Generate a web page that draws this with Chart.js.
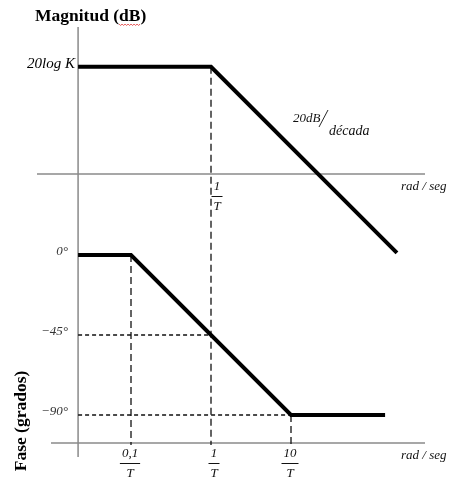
<!DOCTYPE html>
<html>
<head>
<meta charset="utf-8">
<script src="https://cdn.jsdelivr.net/npm/chart.js@4/dist/chart.umd.min.js"></script>
<style>
  html, body { margin: 0; padding: 0; background: #fff; }
  canvas { display: block; }
</style>
</head>
<body>
<canvas id="bode" width="454" height="483"></canvas>
<script>
// Asymptotic Bode diagram of a first-order lag K / (1 + jωT); ω is given in units of 1/T.
const magOmega = [0.0218, 1, 211];
const magDb = [26.8, 26.8, -19.7];
const phaseOmega = [0.0218, 0.1, 10, 150];
const phaseDeg = [0, 0, -90, -90];
const cornerTicks = [0.1, 1, 10];
const cornerTickLabels = ['0,1', '1', '10'];
const phaseTicks = [0, -45, -90];
const phaseTickLabels = ['0°', '−45°', '−90°'];
const magLevelLabel = '20log K';

// Where the hand-drawn axes sit and how far they run (in data units)
const axisSpec = {
  yAxisOmega: 0.0218,
  magAxisFrom: 0.00668,
  phaseAxisFrom: 0.01,
  axisTo: 473,
  vTopDb: 36.75,
  vBottomDeg: -113.6,
  phaseAxisDeg: -105.75
};

const SERIF = '"Liberation Serif", "Times New Roman", serif';

const bodeAxes = {
  id: 'bodeAxes',
  beforeDatasetsDraw(chart) {
    const { ctx } = chart;
    const x = chart.scales.x, ym = chart.scales.yMag, yp = chart.scales.yPh;
    const X = v => x.getPixelForValue(v);
    ctx.save();
    // axes
    ctx.strokeStyle = '#8a8a8a';
    ctx.lineWidth = 1.5;
    ctx.beginPath();
    ctx.moveTo(X(axisSpec.yAxisOmega), ym.getPixelForValue(axisSpec.vTopDb));
    ctx.lineTo(X(axisSpec.yAxisOmega), yp.getPixelForValue(axisSpec.vBottomDeg));
    ctx.moveTo(X(axisSpec.magAxisFrom), ym.getPixelForValue(0));
    ctx.lineTo(X(axisSpec.axisTo), ym.getPixelForValue(0));
    ctx.moveTo(X(axisSpec.phaseAxisFrom), yp.getPixelForValue(axisSpec.phaseAxisDeg));
    ctx.lineTo(X(axisSpec.axisTo), yp.getPixelForValue(axisSpec.phaseAxisDeg));
    ctx.stroke();

    // dashed guides
    const axisY = yp.getPixelForValue(axisSpec.phaseAxisDeg);
    ctx.strokeStyle = '#111';
    ctx.lineWidth = 1.3;
    ctx.setLineDash([7, 4]);
    ctx.beginPath();
    // corner of the magnitude plot, carried down through both plots
    ctx.moveTo(X(cornerTicks[1]), ym.getPixelForValue(magDb[1]));
    ctx.lineTo(X(cornerTicks[1]), axisY + 2);
    // phase corners
    ctx.moveTo(X(cornerTicks[0]), yp.getPixelForValue(phaseDeg[1]));
    ctx.lineTo(X(cornerTicks[0]), axisY + 2);
    ctx.moveTo(X(cornerTicks[2]), yp.getPixelForValue(phaseDeg[2]));
    ctx.lineTo(X(cornerTicks[2]), axisY + 2);
    ctx.stroke();
    ctx.setLineDash([4, 3]);
    ctx.beginPath();
    ctx.moveTo(X(axisSpec.yAxisOmega), yp.getPixelForValue(phaseTicks[1]));
    ctx.lineTo(X(cornerTicks[1]), yp.getPixelForValue(phaseTicks[1]));
    ctx.moveTo(X(axisSpec.yAxisOmega), yp.getPixelForValue(phaseTicks[2]));
    ctx.lineTo(X(cornerTicks[2]), yp.getPixelForValue(phaseTicks[2]));
    ctx.stroke();
    ctx.restore();
  },
  afterDraw(chart) {
    const { ctx } = chart;
    const x = chart.scales.x, ym = chart.scales.yMag, yp = chart.scales.yPh;
    const X = v => x.getPixelForValue(v);
    ctx.save();
    ctx.fillStyle = '#000';

    // titles
    ctx.font = 'bold 17.5px ' + SERIF;
    ctx.textAlign = 'left';
    ctx.textBaseline = 'alphabetic';
    ctx.fillText('Magnitud (dB)', 35, 21);
    const pre = ctx.measureText('Magnitud (').width;
    const dbW = ctx.measureText('dB').width;
    // red wavy underline under "dB"
    ctx.strokeStyle = '#e03030';
    ctx.lineWidth = 0.8;
    ctx.beginPath();
    const sx = 35 + pre, ex = sx + dbW + 1;
    for (let px = sx, k = 0; px <= ex; px += 1.5, k++) {
      const py = 24.5 + (k % 2 ? 1 : -0.5);
      if (k === 0) ctx.moveTo(px, py); else ctx.lineTo(px, py);
    }
    ctx.stroke();

    ctx.save();
    ctx.translate(21, 421);
    ctx.rotate(-Math.PI / 2);
    ctx.textAlign = 'center';
    ctx.textBaseline = 'middle';
    ctx.font = 'bold 17.5px ' + SERIF;
    ctx.fillText('Fase (grados)', 0, 0);
    ctx.restore();

    // magnitude level label
    ctx.font = 'italic 15px ' + SERIF;
    ctx.textAlign = 'right';
    ctx.textBaseline = 'middle';
    ctx.fillText(magLevelLabel, 75, ym.getPixelForValue(magDb[0]) - 3);

    // phase tick labels
    ctx.font = 'italic 13px ' + SERIF;
    ctx.fillStyle = '#333';
    phaseTicks.forEach((d, i) => {
      ctx.fillText(phaseTickLabels[i], 68, yp.getPixelForValue(d) - 3);
    });
    ctx.fillStyle = '#111';

    // slope annotation
    ctx.textAlign = 'left';
    ctx.textBaseline = 'alphabetic';
    ctx.font = 'italic 13px ' + SERIF;
    ctx.fillText('20dB', 293, 122);
    ctx.font = 'italic 14px ' + SERIF;
    ctx.fillText('década', 329, 135);
    ctx.strokeStyle = '#111';
    ctx.lineWidth = 0.9;
    ctx.beginPath();
    ctx.moveTo(319, 127);
    ctx.lineTo(328, 110);
    ctx.stroke();

    // axis units
    ctx.font = 'italic 13px ' + SERIF;
    ctx.fillText('rad / seg', 401, ym.getPixelForValue(0) + 16);
    ctx.fillText('rad / seg', 401, yp.getPixelForValue(axisSpec.phaseAxisDeg) + 16);

    // frequency fractions n / T
    const fraction = (num, cx, top) => {
      ctx.font = 'italic 13px ' + SERIF;
      ctx.textAlign = 'center';
      ctx.textBaseline = 'alphabetic';
      ctx.fillText(num, cx, top + 8);
      const w = Math.max(ctx.measureText(num).width + 4, 11);
      ctx.lineWidth = 1;
      ctx.beginPath();
      ctx.moveTo(cx - w / 2, top + 14.5);
      ctx.lineTo(cx + w / 2, top + 14.5);
      ctx.stroke();
      ctx.fillText('T', cx, top + 28);
    };
    fraction(cornerTickLabels[1], X(cornerTicks[1]) + 6, ym.getPixelForValue(0) + 8);
    const axisY = yp.getPixelForValue(axisSpec.phaseAxisDeg);
    cornerTicks.forEach((w, i) => fraction(cornerTickLabels[i], X(w) + (i === 1 ? 3 : -1), axisY + 6));
    ctx.restore();
  }
};

new Chart(document.getElementById('bode'), {
  type: 'line',
  data: {
    datasets: [
      {
        label: 'Magnitud',
        yAxisID: 'yMag',
        data: magOmega.map((w, i) => ({ x: w, y: magDb[i] }))
      },
      {
        label: 'Fase',
        yAxisID: 'yPh',
        data: phaseOmega.map((w, i) => ({ x: w, y: phaseDeg[i] }))
      }
    ]
  },
  options: {
    responsive: false,
    animation: false,
    devicePixelRatio: 1,
    layout: { padding: 0 },
    plugins: { legend: { display: false }, tooltip: { enabled: false } },
    elements: {
      point: { radius: 0, hoverRadius: 0 },
      line: { tension: 0, borderWidth: 4, borderColor: '#000', borderCapStyle: 'butt', borderJoinStyle: 'miter', fill: false }
    },
    scales: {
      x: { type: 'logarithmic', display: false, bounds: 'data', min: 0.002304, max: 1090 },
      yMag: { type: 'linear', display: false, bounds: 'data', min: -77.25, max: 43.5 },
      yPh: { type: 'linear', display: false, bounds: 'data', min: -128.25, max: 143.44 }
    }
  },
  plugins: [bodeAxes]
});
</script>
</body>
</html>
